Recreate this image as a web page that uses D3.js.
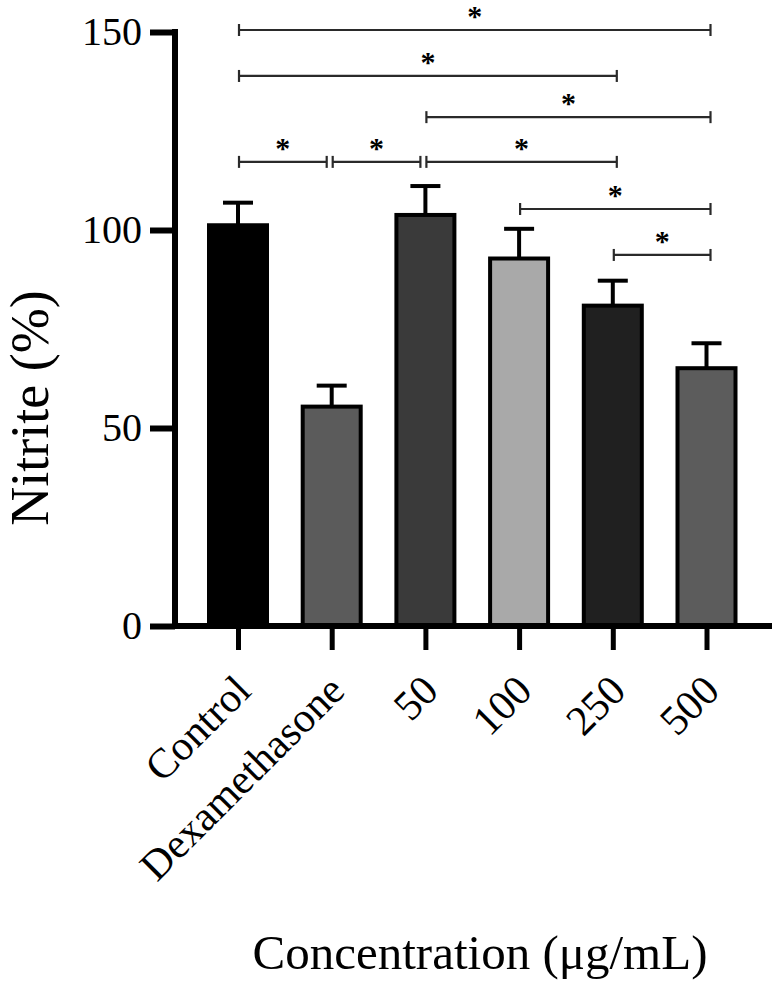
<!DOCTYPE html>
<html>
<head>
<meta charset="utf-8">
<script src="https://cdn.jsdelivr.net/npm/d3@7"></script>
<style>
  html, body { margin: 0; padding: 0; background: #fff; }
  svg { display: block; }
  text { font-family: "Liberation Serif", "Times New Roman", serif; fill: #000; }
</style>
</head>
<body>
<svg id="chart" width="778" height="988"></svg>
<script>
// ---- data ----
const categories = ["Control", "Dexamethasone", "50", "100", "250", "500"];
const means = [101.2, 55.4, 103.8, 92.8, 80.9, 65.1];
const errors = [5.7, 5.3, 7.3, 7.5, 6.3, 6.3];
const barColors = ["#000000", "#5b5b5b", "#3a3a3a", "#a9a9a9", "#202020", "#5c5c5c"];
const yTicks = [0, 50, 100, 150];
// significance brackets: from index, to index, level (in y units)
const bracketFrom = [0, 0, 2, 0, 1, 2, 3, 4];
const bracketTo   = [5, 4, 5, 1, 2, 4, 5, 5];
const bracketLevel = [150.5, 138.9, 128.5, 117.2, 117.2, 117.2, 105.3, 93.7];
const bracketLabel = ["*", "*", "*", "*", "*", "*", "*", "*"];
const yTitle = "Nitrite (%)";
const xTitle = "Concentration (\u03bcg/mL)";

// ---- layout ----
const svg = d3.select("#chart");
const axisX = 175, axisY0 = 626, axisTop = 32, axisRight = 772;
const y = d3.scaleLinear().domain([0, 150]).range([axisY0, axisTop]);
const x = d3.scalePoint().domain(categories).range([238, 706.5]);
const barW = 58;

// bars
svg.append("g").selectAll("rect").data(categories).join("rect")
  .attr("x", d => x(d) - barW / 2)
  .attr("y", (d, i) => y(means[i]))
  .attr("width", barW)
  .attr("height", (d, i) => y(0) - y(means[i]))
  .attr("fill", (d, i) => barColors[i])
  .attr("stroke", "#000")
  .attr("stroke-width", 4);

// error bars (upper only)
const eg = svg.append("g").attr("stroke", "#000").attr("stroke-width", 4);
categories.forEach((c, i) => {
  eg.append("line").attr("x1", x(c)).attr("x2", x(c))
    .attr("y1", y(means[i])).attr("y2", y(means[i] + errors[i]));
  eg.append("line").attr("x1", x(c) - 15).attr("x2", x(c) + 15)
    .attr("y1", y(means[i] + errors[i])).attr("y2", y(means[i] + errors[i]));
});

// y axis
const yAxis = d3.axisLeft(y).tickValues(yTicks).tickSize(25).tickPadding(8);
const gy = svg.append("g").attr("transform", `translate(${axisX},0)`).call(yAxis);
gy.select(".domain").attr("stroke", "#000").attr("stroke-width", 6)
  .attr("d", `M0,${axisY0 + 3}V${axisTop - 3}`);
gy.selectAll(".tick line").attr("stroke", "#000").attr("stroke-width", 6);
gy.selectAll(".tick text").style("font-family", "Liberation Serif").style("font-size", "40px").attr("fill", "#000");

// x axis
const xAxis = d3.axisBottom(x).tickSize(24).tickFormat("");
const gx = svg.append("g").attr("transform", `translate(0,${axisY0})`).call(xAxis);
gx.select(".domain").attr("stroke", "#000").attr("stroke-width", 6)
  .attr("d", `M${axisX - 3},0H${axisRight}`);
gx.selectAll(".tick line").attr("stroke", "#000").attr("stroke-width", 5);

// x tick labels rotated
svg.append("g").selectAll("text").data(categories).join("text")
  .attr("transform", d => `translate(${x(d) + 15},693) rotate(-45)`)
  .attr("text-anchor", "end")
  .style("font-size", "42px")
  .text(d => d);

// brackets
const bg = svg.append("g");
bracketFrom.forEach((f, k) => {
  const t = bracketTo[k];
  const lvl = bracketLevel[k];
  const shared = bracketFrom.some((ff, j) => ff === t && bracketLevel[j] === lvl);
  const x1 = x(categories[f]) + 1;
  const x2 = x(categories[t]) + (shared ? -5 : 4);
  const yy = y(lvl);
  bg.append("line").attr("x1", x1).attr("x2", x2).attr("y1", yy).attr("y2", yy)
    .attr("stroke", "#2a2a2a").attr("stroke-width", 2.2);
  [x1, x2].forEach(xx => bg.append("line").attr("x1", xx).attr("x2", xx)
    .attr("y1", yy - 6).attr("y2", yy + 6).attr("stroke", "#2a2a2a").attr("stroke-width", 2.2));
  bg.append("text").attr("x", (x1 + x2) / 2).attr("y", yy - 4)
    .attr("text-anchor", "middle").style("font-size", "30px").style("font-weight", "bold")
    .text(bracketLabel[k]);
});

// titles
svg.append("text").attr("transform", "translate(48,408) rotate(-90)")
  .attr("text-anchor", "middle").style("font-size", "54px").text(yTitle);
svg.append("text").attr("x", 480).attr("y", 969)
  .attr("text-anchor", "middle").style("font-size", "49px").text(xTitle);
</script>
</body>
</html>
